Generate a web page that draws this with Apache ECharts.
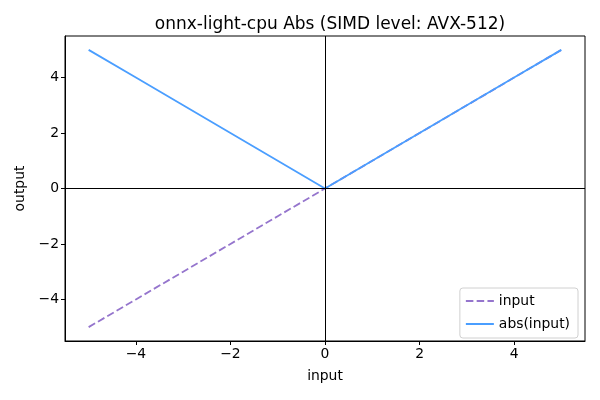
<!DOCTYPE html>
<html><head><meta charset="utf-8">
<script src="https://cdn.jsdelivr.net/npm/echarts@6/dist/echarts.min.js"></script>
<style>html,body{margin:0;padding:0;background:#fff}#c{width:600px;height:400px}</style>
</head><body><div id="c"></div>
<script>
const xValues = [-5, -4, -3, -2, -1, 0, 1, 2, 3, 4, 5];
const inputValues = [-5, -4, -3, -2, -1, 0, 1, 2, 3, 4, 5];
const absValues = [5, 4, 3, 2, 1, 0, 1, 2, 3, 4, 5];
const xTicks = [-4, -2, 0, 2, 4];
const yTicks = [-4, -2, 0, 2, 4];
const titleText = 'onnx-light-cpu Abs (SIMD level: AVX-512)';

const FONT = 'DejaVu Sans';
const fmt = v => String(v).replace('-', '\u2212');
const chart = echarts.init(document.getElementById('c'), null, {renderer: 'canvas'});
chart.setOption({
  animation: false,
  backgroundColor: '#fff',
  title: {text: titleText, left: 325, textAlign: 'center', top: 11,
    textStyle: {fontFamily: FONT, fontSize: 17, fontWeight: 'normal', color: '#000'}},
  grid: {left: 65, right: 15, top: 36, bottom: 59, show: true, borderColor: '#000', borderWidth: 1, backgroundColor: 'transparent'},
  legend: {
    orient: 'vertical', right: 22, top: 288,
    backgroundColor: 'rgba(255,255,255,0.8)', borderColor: '#d0d0d0', borderWidth: 1, borderRadius: 3,
    padding: [6, 8, 7, 5], itemGap: 9, itemWidth: 28, itemHeight: 12,
    itemStyle: {opacity: 0},
    textStyle: {fontFamily: FONT, fontSize: 13.9, color: '#000'},
    data: ['input', 'abs(input)']
  },
  xAxis: {
    type: 'value', min: -5.5, max: 5.5,
    name: 'input', nameLocation: 'middle', nameGap: 28,
    nameTextStyle: {fontFamily: FONT, fontSize: 13.9, color: '#000'},
    axisLine: {show: true, onZero: false, lineStyle: {color: '#000'}},
    axisTick: {show: true, length: 4, inside: false, customValues: xTicks, lineStyle: {color: '#000'}},
    axisLabel: {customValues: xTicks, formatter: fmt, fontFamily: FONT, fontSize: 13.9, color: '#000', margin: 6},
    splitLine: {show: false}
  },
  yAxis: {
    type: 'value', min: -5.5, max: 5.5,
    name: 'output', nameLocation: 'middle', nameGap: 38,
    nameTextStyle: {fontFamily: FONT, fontSize: 13.9, color: '#000'},
    axisLine: {show: true, onZero: false, lineStyle: {color: '#000'}},
    axisTick: {show: true, length: 4, inside: false, customValues: yTicks, lineStyle: {color: '#000'}},
    axisLabel: {customValues: yTicks, formatter: fmt, fontFamily: FONT, fontSize: 13.9, color: '#000', margin: 6},
    splitLine: {show: false}
  },
  series: [
    {name: 'input', type: 'line', symbol: 'none', color: '#9575cd',
      lineStyle: {width: 1.8, type: [7.5, 3.3], color: '#9575cd'},
      data: xValues.map((x, i) => [x, inputValues[i]])},
    {name: 'abs(input)', type: 'line', symbol: 'none', color: '#4a9eff',
      lineStyle: {width: 1.8, color: '#4a9eff'},
      data: xValues.map((x, i) => [x, absValues[i]]),
      markLine: {silent: true, symbol: 'none', label: {show: false},
        lineStyle: {color: '#000', width: 1, type: 'solid'},
        emphasis: {disabled: true},
        data: [{xAxis: 0}, {yAxis: 0}]}}
  ]
});
</script></body></html>
